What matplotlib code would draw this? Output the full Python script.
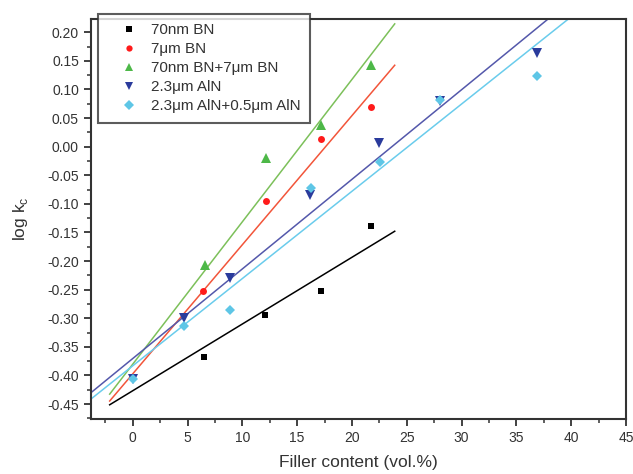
import matplotlib
matplotlib.use("Agg")
import matplotlib.pyplot as plt
from matplotlib.ticker import MultipleLocator, FuncFormatter
import numpy as np

plt.rcParams['font.family'] = ['Liberation Sans', 'DejaVu Sans']

labels = ["70nm BN", "7\u03bcm BN", "70nm BN+7\u03bcm BN", "2.3\u03bcm AlN", "2.3\u03bcm AlN+0.5\u03bcm AlN"]

x_bn70 = [6.5, 12.1, 17.15, 21.7]
y_bn70 = [-0.367, -0.294, -0.253, -0.139]
x_bn7 = [6.45, 12.2, 17.2, 21.7]
y_bn7 = [-0.252, -0.095, 0.013, 0.070]
x_bnmix = [6.55, 12.2, 17.2, 21.7]
y_bnmix = [-0.207, -0.020, 0.038, 0.143]
x_aln = [0.05, 4.7, 8.9, 16.2, 22.5, 28.0, 36.85]
y_aln = [-0.407, -0.299, -0.229, -0.085, 0.007, 0.079, 0.163]
x_alnmix = [0.0, 4.7, 8.9, 16.25, 22.6, 28.0, 36.85]
y_alnmix = [-0.407, -0.313, -0.286, -0.073, -0.026, 0.082, 0.124]

# linear fit lines: slope, intercept, x range
fit_slope = [0.01167, 0.02258, 0.0249, 0.01567, 0.01526]
fit_intercept = [-0.4268, -0.3973, -0.3804, -0.3705, -0.3832]
fit_xstart = [-2.1, -2.1, -2.1, -4.0, -4.0]
fit_xend = [23.9, 23.9, 23.9, 42.0, 42.0]

xs = [x_bn70, x_bn7, x_bnmix, x_aln, x_alnmix]
ys = [y_bn70, y_bn7, y_bnmix, y_aln, y_alnmix]
markers = ['s', 'o', '^', 'v', 'D']
msizes = [5, 5, 7, 7, 5.5]
mcolors = ['#000000', '#ff1a1a', '#4db848', '#2a3b9c', '#5ec6e6']
lcolors = ['#000000', '#f2553a', '#7cc05a', '#5458ab', '#6accec']

fig = plt.figure(figsize=(6.33, 4.74), dpi=100)
ax = fig.add_axes([0.1433, 0.116, 0.989 - 0.1433, 0.96 - 0.116])

for i in range(5):
    xl = np.array([fit_xstart[i], fit_xend[i]])
    ax.plot(xl, fit_slope[i] * xl + fit_intercept[i], color=lcolors[i], lw=1.1, zorder=2)
handles = []
for i in range(5):
    h, = ax.plot(xs[i], ys[i], linestyle='none', marker=markers[i], ms=msizes[i],
                 color=mcolors[i], markeredgewidth=0, label=labels[i], zorder=3)
    handles.append(h)

ax.set_xlim(-3.83, 45)
ax.set_ylim(-0.4762, 0.2233)
ax.xaxis.set_major_locator(MultipleLocator(5))
ax.xaxis.set_minor_locator(MultipleLocator(2.5))
ax.set_yticks(np.round(np.arange(-0.45, 0.2001, 0.05), 2))
ax.yaxis.set_minor_locator(MultipleLocator(0.025))


def yfmt(v, pos):
    s = "%.2f" % v
    if s == "-0.00":
        s = "0.00"
    return s


ax.yaxis.set_major_formatter(FuncFormatter(yfmt))

for s in ax.spines.values():
    s.set_linewidth(1.5)
    s.set_color('#333333')
ax.tick_params(which='major', direction='out', length=5, width=1.3, color='#333333',
               labelsize=10, labelcolor='#333333')
ax.tick_params(which='minor', direction='out', length=3, width=1.1, color='#333333')

ax.set_xlabel("Filler content (vol.%)", fontsize=12.5, color='#333333', labelpad=7)
ax.set_ylabel("log k$_\\mathregular{c}$", fontsize=12.5, color='#333333', labelpad=12)

leg = fig.legend(handles=handles, loc='upper left', bbox_to_anchor=(98 / 633, 1 - 14 / 474),
                 bbox_transform=fig.transFigure, fontsize=11, frameon=True, fancybox=False,
                 borderaxespad=0, handlelength=2.8, handletextpad=0.05, labelspacing=0.33,
                 borderpad=0.6, markerscale=0.9)
leg.get_frame().set_edgecolor('#333333')
leg.get_frame().set_linewidth(1.5)
for t in leg.get_texts():
    t.set_color('#333333')

fig.savefig("out.png", dpi=100)
